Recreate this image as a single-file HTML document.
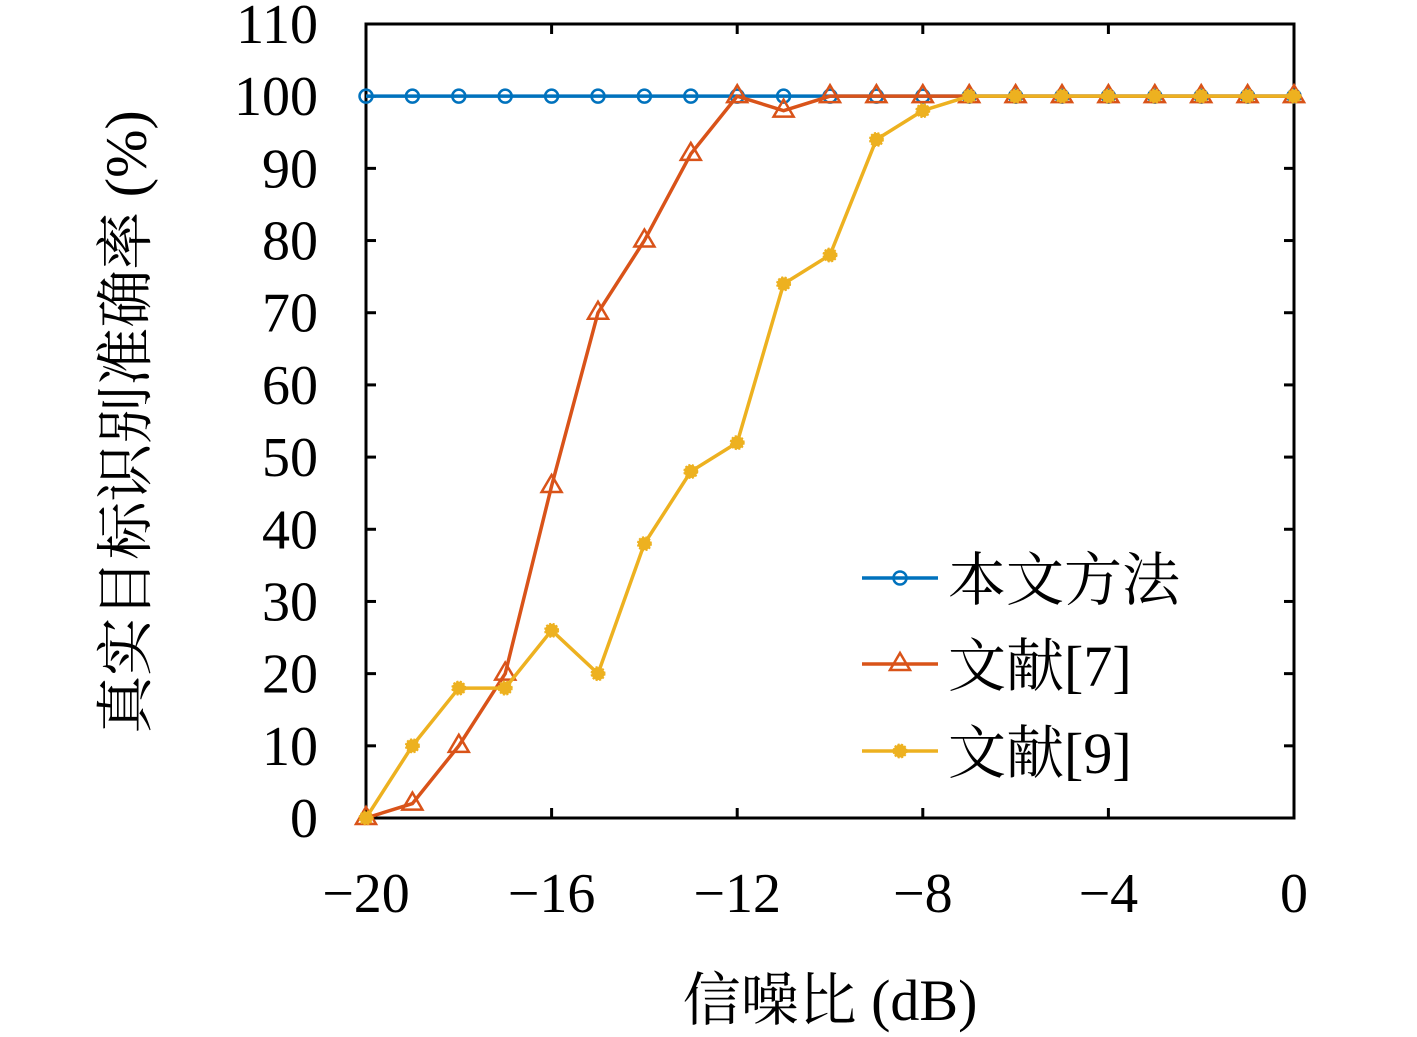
<!DOCTYPE html>
<html><head><meta charset="utf-8"><style>
body{margin:0;background:#fff}
svg{display:block}
text{font-family:"Liberation Serif","Noto Serif CJK SC",serif;fill:#000}
</style></head><body>
<svg id="chart" width="1417" height="1037">
<rect x="366" y="24" width="928" height="794" fill="#fff" stroke="#000" stroke-width="3"/>
<g id="ticks"></g><g id="series"></g>
<text x="132" y="422" font-size="58" text-anchor="middle" transform="rotate(-90 132 422)" dominant-baseline="middle">真实目标识别准确率 (%)</text>
<text x="830" y="1020" font-size="58" text-anchor="middle">信噪比 (dB)</text>
<g id="legend"></g>
</svg>
<script>
const xValues=[-20,-19,-18,-17,-16,-15,-14,-13,-12,-11,-10,-9,-8,-7,-6,-5,-4,-3,-2,-1,0];
const oursValues=[100,100,100,100,100,100,100,100,100,100,100,100,100,100,100,100,100,100,100,100,100];
const ref7Values=[0,2,10,20,46,70,80,92,100,98,100,100,100,100,100,100,100,100,100,100,100];
const ref9Values=[0,10,18,18,26,20,38,48,52,74,78,94,98,100,100,100,100,100,100,100,100];
const xTicks=[-20,-16,-12,-8,-4,0];
const xTickLabels=["−20","−16","−12","−8","−4","0"];
const yTicks=[0,10,20,30,40,50,60,70,80,90,100,110];
const seriesNames=["本文方法","文献[7]","文献[9]"];
const NS="http://www.w3.org/2000/svg";
const X=v=>366+(v+20)*928/20, Y=v=>818-v*794/110;
function mk(tag,attrs,parent){const e=document.createElementNS(NS,tag);for(const k in attrs)e.setAttribute(k,attrs[k]);parent.appendChild(e);return e;}
const tk=document.getElementById('ticks');
xTicks.forEach((t,i)=>{
 let l=mk('line',{x1:X(t),x2:X(t),y1:818,y2:808,stroke:'#000','stroke-width':3},tk);
 
 
 let l2=mk('line',{x1:X(t),x2:X(t),y1:24,y2:34,stroke:'#000','stroke-width':3},tk);
 
 
 let tx=mk('text',{x:X(t),y:912,'font-size':56,'text-anchor':'middle'},tk);tx.textContent=xTickLabels[i];
 
 
});
yTicks.forEach(t=>{
 let l=mk('line',{x1:366,x2:376,y1:Y(t),y2:Y(t),stroke:'#000','stroke-width':3},tk);
 
 
 let l2=mk('line',{x1:1294,x2:1284,y1:Y(t),y2:Y(t),stroke:'#000','stroke-width':3},tk);
 
 
 let tx=mk('text',{x:318,y:Y(t)+19,'font-size':56,'text-anchor':'end'},tk);tx.textContent=t;
 
 
});
const colors=['#0072BD','#D95319','#EDB120'];
function marker(kind,x,y,c,p){
 let m;
 if(kind===0)m=mk('circle',{cx:x,cy:y,r:6.5,fill:'none',stroke:c,'stroke-width':2.5},p);
 else if(kind===1)m=mk('path',{d:`M${x} ${y-11}L${x+10} ${y+6}L${x-10} ${y+6}Z`,fill:'none',stroke:c,'stroke-width':2.5},p);
 else m=mk('circle',{cx:x,cy:y,r:6.5,fill:c,stroke:c,'stroke-width':2,'stroke-dasharray':'2 1.5'},p);
 return m;
}
const sg=document.getElementById('series');
[oursValues,ref7Values,ref9Values].forEach((vals,k)=>{
 const g=mk('g',{},sg);
 
 
 const pl=mk('polyline',{points:vals.map((v,i)=>X(xValues[i])+','+Y(v)).join(' '),fill:'none',stroke:colors[k],'stroke-width':3.5},g);
 
 
 vals.forEach((v,i)=>{const m=marker(k,X(xValues[i]),Y(v),colors[k],g);
  
  });
});
const lg=document.getElementById('legend');
[578,664,751].forEach((y,k)=>{
 const g=mk('g',{},lg);
 
 
 mk('line',{x1:862,x2:938,y1:y,y2:y,stroke:colors[k],'stroke-width':3.5},g);
 marker(k,900,y,colors[k],g);
 const t=mk('text',{x:948,y:y+22,'font-size':58},g);t.textContent=seriesNames[k];
});
</script>
</body></html>
